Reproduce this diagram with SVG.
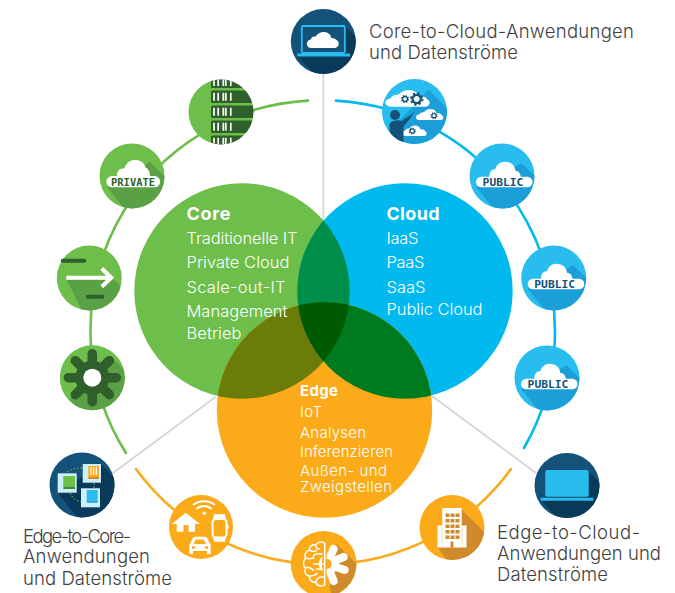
<svg xmlns="http://www.w3.org/2000/svg" xmlns:xlink="http://www.w3.org/1999/xlink" width="675" height="593" viewBox="0 0 675 593">
<style>
text{font-family:"Inter","Roboto","Liberation Sans",sans-serif}
.lab{font-size:18.500px;font-weight:300;fill:#3f3f3f}
.v{font-size:16.500px;font-weight:300;fill:#fff}
.e{font-size:15px;font-weight:300;fill:#fff}
.vb{font-size:18px;font-weight:700;fill:#fff}
.tag{font-family:"DejaVu Sans Mono",monospace;font-weight:700}
.arc{fill:none;stroke-width:2.600;stroke-linecap:round}
.gray{fill:none;stroke:#d2d2d2;stroke-width:1.600}
.navy{fill:#14527a}.navys{fill:#0a3a5a}
.blue{fill:#29bdef}.blues{fill:#1c9fd9}
.green{fill:#6ebe4b}.greens{fill:#5aa045}
.org{fill:#fbab1a}.orgs{fill:#cf8b2b}
.cl{fill:#fff}
</style>
<defs>
<clipPath id="ic"><circle cx="0" cy="0" r="32.500"/></clipPath>
<clipPath id="cCore"><circle cx="242" cy="291" r="107.700"/></clipPath>
<clipPath id="cCloud"><circle cx="405" cy="291" r="107.700"/></clipPath>
<g id="pubArt">
<circle class="blue" r="32.500"/>
<g clip-path="url(#ic)"><polygon class="blues" points="19.700,-12.700 60,27.300 20,67 -26,11"/></g>
<g transform="translate(1.300,0)"><path class="cl" d="M-22,11.300a5.300,5.300 0 0 1 0,-10.600h8c0,-5 2,-7.500 6,-7.500c1,-4 4.500,-7.500 9.500,-7.500c6,0 10,3.500 10.500,9c3,0 5,2 5.500,6h6.500a5.300,5.300 0 0 1 0,10.600z"/></g>
</g>
<g id="cog"><circle r="3.300" fill="none" stroke="#14527a" stroke-width="1.800"/><circle r="4.600" fill="none" stroke="#14527a" stroke-width="1.600" stroke-dasharray="1.800 1.810"/></g>
<g id="smCloud"><path class="cl" d="M-12,7a4,4 0 0 1 -1,-8c1,-3 3,-4 5,-3.500c2,-3.500 5,-5 8,-4.500c3,0 5,2.500 5.500,5.500c3,0 5,.5 6,3.500a4,4 0 0 1 -1,7z"/></g>
</defs>

<g id="connectors">
<path class="gray" d="M323.300,74V225"/>
<path class="gray" d="M216,396.700L113,473"/>
<path class="gray" d="M432,396L536,473"/>
<path class="arc" stroke="#6ebe4b" d="M308,100.600A230,230 0 0 0 126,453"/>
<path class="arc" stroke="#00b9ef" d="M336,100.600A232,232 0 0 1 524,448"/>
<path class="arc" stroke="#fbab1a" d="M136,469A232,232 0 0 0 511,469"/>
</g>

<g id="node-core"><circle cx="242" cy="291" r="107.700" fill="#6ebe4b"/></g>
<g id="node-cloud"><circle cx="405" cy="291" r="107.700" fill="#00b9ef"/></g>
<g id="node-edge"><circle cx="324.500" cy="410" r="107.700" fill="#fbab1a"/></g>
<g id="overlaps">
<g clip-path="url(#cCore)"><circle cx="405" cy="291" r="107.700" fill="#008f4b"/></g>
<g clip-path="url(#cCore)"><circle cx="324.500" cy="410" r="107.700" fill="#6b7c08"/></g>
<g clip-path="url(#cCloud)"><circle cx="324.500" cy="410" r="107.700" fill="#007a1e"/></g>
<g clip-path="url(#cCore)"><g clip-path="url(#cCloud)"><circle cx="324.500" cy="410" r="107.700" fill="#005a00"/></g></g>
</g>
<g id="venn-text">
<text class="vb" x="186.500" y="220" textLength="44">Core</text>
<text class="v" x="186.500" y="244" textLength="111">Traditionelle IT</text>
<text class="v" x="186.500" y="268.300" textLength="103">Private Cloud</text>
<text class="v" x="186.500" y="292.700" textLength="99">Scale-out-IT</text>
<text class="v" x="186.500" y="316.700" textLength="101">Management</text>
<text class="v" x="186.500" y="338.700" textLength="55">Betrieb</text>
<text class="vb" x="386.500" y="220" textLength="53">Cloud</text>
<text class="v" x="386.500" y="244" textLength="32">IaaS</text>
<text class="v" x="386.500" y="268.300" textLength="38">PaaS</text>
<text class="v" x="386.500" y="292.700" textLength="39">SaaS</text>
<text class="v" x="386.500" y="315" textLength="96">Public Cloud</text>
<text class="e" x="300" y="396" textLength="38" style="font-weight:700">Edge</text>
<text class="e" x="300" y="416.700" textLength="22">IoT</text>
<text class="e" x="300" y="438" textLength="66">Analysen</text>
<text class="e" x="300" y="457" textLength="93">Inferenzieren</text>
<text class="e" x="300" y="476" textLength="87">Außen- und</text>
<text class="e" x="300" y="491.700" textLength="92">Zweigstellen</text>
</g>

<g id="icon-core-cloud" transform="translate(323.300,41.500)">
<circle class="navy" r="32.500"/>
<g clip-path="url(#ic)"><polygon class="navys" points="22,-15 60,23 20,63 -26,15"/></g>
<rect x="-21.500" y="-15.500" width="43" height="27" rx="1.500" fill="#14527a" stroke="#29bdef" stroke-width="1.800"/>
<rect x="-26" y="12" width="52.700" height="3" fill="#29bdef"/>
<path class="cl" d="M-12,6.500a4.200,4.200 0 0 1 -.5,-8.400c.5,-2.500 2.500,-3.500 5,-3c1.500,-3 4.500,-4.600 8,-4.600c4,0 7,2.500 7.500,6c3.500,0 7.500,2.500 7.500,5.500c0,2.500 -2,4.500 -5,4.500z"/>
</g>

<g id="icon-multi-cloud" transform="translate(414.500,111.500)">
<circle class="blue" r="32.500"/>
<g clip-path="url(#ic)"><polygon class="blues" points="14,-22 60,24 10,70 -30,30 -14,8"/></g>
<use xlink:href="#smCloud" href="#smCloud" transform="translate(-4.500,-12) scale(1.500,1.030)"/>
<use xlink:href="#cog" href="#cog" transform="translate(-9.500,-12.500) scale(.75)"/>
<use xlink:href="#cog" href="#cog" transform="translate(2.200,-12.500) scale(1.250)"/>
<use xlink:href="#smCloud" href="#smCloud" transform="translate(16.800,3.800) scale(.92,.68)"/>
<use xlink:href="#cog" href="#cog" transform="translate(19.500,4.200) scale(.65)"/>
<use xlink:href="#smCloud" href="#smCloud" transform="translate(1.300,20) scale(.83,.65)"/>
<use xlink:href="#cog" href="#cog" transform="translate(-2.200,19.500) scale(.65)"/>
<circle cx="-19.500" cy="3.500" r="5" fill="#14527a"/>
<path d="M-25,12C-22,8.500 -16,8 -13,9.500L-3,3L-2,4L-11,15V30.500C-17,29 -22,25 -25,20z" fill="#14527a"/>
<path d="M-3,3L-.500,1" stroke="#14527a" stroke-width="1" fill="none"/>
</g>

<g id="icon-server" transform="translate(221,112)">
<circle class="green" r="32.500"/>
<g clip-path="url(#ic)" fill="#2f5f2a">
<rect x="-10" y="-36" width="50" height="12" rx="1.500"/>
<rect x="-10" y="-21.500" width="50" height="12.500" rx="1.500"/>
<rect x="-10" y="-6.500" width="50" height="12.500" rx="1.500"/>
<rect x="-10" y="8.500" width="50" height="12.500" rx="1.500"/>
<rect x="-10" y="23.500" width="50" height="12.500" rx="1.500"/>
<path fill="none" stroke="#fff" stroke-width="1.700" d="M-7,-34V-26M-2.800,-34V-26M2.300,-34V-26M4.800,-34V-26M9.800,-34V-26M-7,-19.300V-11.300M-2.800,-19.300V-11.300M2.300,-19.300V-11.300M4.800,-19.300V-11.300M9.800,-19.300V-11.300M-7,-4.300V3.700M-2.800,-4.300V3.700M2.300,-4.300V3.700M4.800,-4.300V3.700M9.800,-4.300V3.700M-7,10.700V18.700M-2.800,10.700V18.700M2.300,10.700V18.700M4.800,10.700V18.700M9.800,10.700V18.700M-7,25.700V33.700M-2.800,25.700V33.700M2.300,25.700V33.700M4.800,25.700V33.700M9.800,25.700V33.700"/>
</g>
</g>

<g id="icon-private" transform="translate(132,176)">
<circle class="green" r="32.500"/>
<g clip-path="url(#ic)"><polygon class="greens" points="18,-14 60,28 20,68 -25,11"/></g>
<path class="cl" d="M-20,11.300a5.600,5.600 0 0 1 0,-11.300h5c0,-5 1.500,-7.500 7.500,-7.800c1,-4 5,-8.200 10,-8.200c6,0 10,2.500 11,7.500c2.500,1 4.500,4 4.500,8.500h4.500a5.600,5.600 0 0 1 0,11.300z"/>
<text class="tag" x="1" y="9.500" font-size="10.400" text-anchor="middle" fill="#2f5f2a">PRIVATE</text>
</g>

<g id="icon-arrow" transform="translate(89.300,278)">
<circle class="green" r="32.500"/>
<g clip-path="url(#ic)"><polygon class="greens" points="-22.500,2 20,2 23,-1 12,-11 50,27 10,67"/></g>
<path d="M-23,-.300H21M12.500,-9.500L22,-.300L12.500,8.700" fill="none" stroke="#fff" stroke-width="4"/>
<path d="M-26.500,-17.300H-5M-1.500,18.700H13" stroke="#2f5f2a" stroke-width="4" stroke-linecap="round" fill="none"/>
</g>

<g id="icon-gear" transform="translate(92.300,377.700)">
<circle class="green" r="32.500"/>
<g clip-path="url(#ic)"><polygon class="greens" points="18,-22 60,20 20,64 -23,22"/></g>
<path d="M0,-24V24M-24,0H24M-17,-17L17,17M-17,17L17,-17" stroke="#2f5f2a" stroke-width="9.500" stroke-linecap="round"/>
<circle r="17" fill="#2f5f2a"/>
<circle r="9" fill="#fff"/>
</g>

<g id="icon-public-1" transform="translate(502,176)">
<use xlink:href="#pubArt" href="#pubArt"/>
<text class="tag" x="1" y="9.700" font-size="11.300" text-anchor="middle" fill="#14527a">PUBLIC</text>
</g>
<g id="icon-public-2" transform="translate(553.700,278)">
<use xlink:href="#pubArt" href="#pubArt"/>
<text class="tag" x="1" y="9.700" font-size="11.300" text-anchor="middle" fill="#14527a">PUBLIC</text>
</g>
<g id="icon-public-3" transform="translate(547,378)">
<use xlink:href="#pubArt" href="#pubArt"/>
<text class="tag" x="1" y="9.700" font-size="11.300" text-anchor="middle" fill="#14527a">PUBLIC</text>
</g>

<g id="icon-edge-cloud" transform="translate(567,485.500)">
<circle class="navy" r="32.500"/>
<g clip-path="url(#ic)"><polygon class="navys" points="21,-15 60,24 20,64 -26,15"/></g>
<rect x="-21.700" y="-15.500" width="43.400" height="26.700" rx="2" fill="#29bdef"/>
<rect x="-26.300" y="12.200" width="52.600" height="3" fill="#29bdef"/>
</g>

<g id="icon-edge-core" transform="translate(82,485)">
<circle class="navy" r="32.500"/>
<g clip-path="url(#ic)"><polygon class="navys" points="19,-21 60,20 20,64 -24,8"/></g>
<path d="M-15,-13C-10,-16 -6,-17 0,-17M12,-2V3M-12,8C-9,14 -5,16 -1,17" fill="none" stroke="#a5b84a" stroke-width="1" stroke-dasharray="1.500 2"/>
<rect x="-24.300" y="-11.700" width="19" height="19.400" fill="#cdeefb"/>
<rect x="-18.700" y="-9" width="11.700" height="11" fill="#6ebe4b"/>
<rect x="-18.700" y="2" width="11.700" height="2" fill="#3f8a35"/>
<rect x=".7" y="-21" width="18.300" height="18.700" fill="#cdeefb"/>
<rect x="6.300" y="-19" width="10.700" height="11" fill="#fbab1a"/>
<rect x="6.300" y="-8" width="10.700" height="2" fill="#cf8b2b"/>
<path d="M9,-18V-10M11.700,-18V-10M14.400,-18V-10" stroke="#fff" stroke-width="1.200"/>
<rect x="-1" y="3.300" width="19" height="19" fill="#cdeefb"/>
<rect x="4.700" y="5" width="11" height="10.700" fill="#29bdef"/>
<rect x="4.700" y="15.700" width="11" height="2" fill="#1c9fd9"/>
</g>

<g id="icon-iot" transform="translate(201,527)">
<circle class="org" r="32"/>
<path class="cl" d="M-15.300,-14.300L-1,-3H-6V4.700H-12.500V-2H-17.500V4.700H-24.300V-3H-29.300z"/>
<circle class="cl" cx="3.300" cy="-13.700" r="1.800"/>
<path d="M-4.500,-18c4,-4 11,-4 15,0M-8,-22c6,-5 16,-5 22,0" fill="none" stroke="#fff" stroke-width="1.900"/>
<path class="cl" d="M-11.700,27V18L-8,11Q-7,9.700 -5,9.700H3Q5,9.700 6,11L9.700,18V27H6V24H-8V27z"/>
<path class="org" d="M-7.500,17L-5.200,12.500H2.500L5.200,17z"/>
<circle class="org" cx="-7.500" cy="20.500" r="1.600"/><circle class="org" cx="5.500" cy="20.500" r="1.600"/>
<path class="cl" d="M13,-12.700H24L25,-7H12zM12,10H25L24,14.700H13z"/>
<rect x="11.500" y="-8" width="14" height="18.500" rx="3.500" fill="none" stroke="#fff" stroke-width="2"/>
<rect class="cl" x="26.500" y="-2" width="1" height="4"/>
</g>

<g id="icon-brain" transform="translate(323.700,564)">
<circle class="org" r="33"/>
<g clip-path="url(#ic)"><polygon class="orgs" points="13,-20 60,27 20,67 6,24"/></g>
<path d="M3,0L10,-15M3,0L20,-7M3,0L21,6M3,0L10,17" stroke="#fff" stroke-width="8" stroke-linecap="round"/>
<circle cx="5" r="10" fill="#fff"/>
<rect class="org" x="-1.500" y="-24" width="4.500" height="48"/>
<circle cx="3" r="5" fill="#fbab1a"/>
<path d="M1,-21C-2,-23 -6,-22 -8,-19C-12,-20 -15,-17 -14,-14C-18,-13 -20,-9 -18,-6C-21,-3 -21,2 -18,4C-20,8 -18,12 -14,12C-15,16 -11,19 -8,18C-7,22 -2,23 1,21zM-8,-19c0,3 2,4 4,4M-14,-14c2,2 5,2 7,0M-1,-10h-6c-3,0 -4,3 -3,5M-18,-6c3,1 5,1 7,0M-11,0H1M-18,4c3,-1 6,0 8,3M-1,5h-7M-14,12c3,0 6,-1 8,-3M-8,18c1,-3 3,-5 6,-5h3" fill="none" stroke="#fff" stroke-width="1.500"/>
</g>

<g id="icon-building" transform="translate(452,527.500)">
<circle class="org" r="32.500"/>
<g clip-path="url(#ic)"><polygon class="orgs" points="9.700,-18 60,32 20,70 -14,20"/></g>
<path class="cl" d="M-9.700,-19.500H9.700V-2H14.500V20H-14.500V-2H-9.700z"/>
<g class="orgs">
<path d="M-6.500,-14h4v3.500h-4zM-1.500,-14h4v3.500h-4zM3.500,-14h4v3.500h-4zM-6.500,-8.500h4v3.500h-4zM-1.500,-8.500h4v3.500h-4zM3.500,-8.500h4v3.500h-4zM-6.500,-3h4v3.500h-4zM-1.500,-3h4v3.500h-4zM3.500,-3h4v3.500h-4zM-6.500,2.500h4v3.500h-4zM-1.500,2.500h4v3.500h-4zM3.500,2.500h4v3.500h-4zM-6.500,8h4v3.500h-4zM-1.500,8h4v3.500h-4zM3.500,8h4v3.500h-4zM-1.500,14h3v6h-3z"/>
</g>
<path d="M-10,-1V20M10,-1V20" stroke="#f3d9a8" stroke-width=".8"/>
</g>

<g id="labels">
<text class="lab" x="369" y="38" textLength="265">Core-to-Cloud-Anwendungen</text>
<text class="lab" x="369" y="59" textLength="149">und Datenströme</text>
<text class="lab" x="23" y="543" textLength="108">Edge-to-Core-</text>
<text class="lab" x="23" y="563" textLength="127">Anwendungen</text>
<text class="lab" x="23" y="585" textLength="149">und Datenströme</text>
<text class="lab" x="497" y="539" textLength="143">Edge-to-Cloud-</text>
<text class="lab" x="497" y="560" textLength="164">Anwendungen und</text>
<text class="lab" x="497" y="581" textLength="111">Datenströme</text>
</g>
</svg>
